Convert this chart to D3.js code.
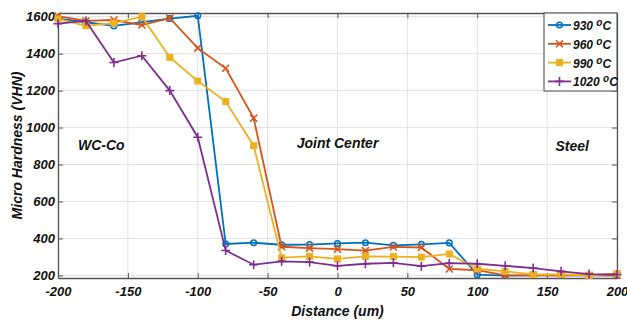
<!DOCTYPE html>
<html>
<head>
<meta charset="utf-8">
<script src="https://cdn.jsdelivr.net/npm/d3@7"></script>
<style>
  body { margin: 0; background: #fff; }
  svg text { font-family: "Liberation Sans", Arial, sans-serif; font-weight: bold; font-style: italic; fill: #111; }
</style>
</head>
<body>
<div id="chart"></div>
<script>
// distance positions (um)
const distances = [-200, -180, -160, -140, -120, -100, -80, -60, -40, -20, 0, 20, 40, 60, 80, 100, 120, 140, 160, 180, 200];

// hardness readings (VHN) per temperature
const hv930  = [1590, 1570, 1550, 1570, 1590, 1605, 370, 377, 366, 367, 373, 377, 363, 368, 376, 204, 199, 200, 200, 200, 200];
const hv960  = [1603, 1577, 1582, 1555, 1592, 1430, 1321, 1051, 355, 348, 342, 334, 354, 351, 235, 228, 200, 200, 201, 200, 200];
const hv990  = [1588, 1551, 1565, 1600, 1380, 1252, 1141, 902, 296, 303, 289, 303, 302, 299, 316, 236, 222, 205, 205, 200, 210];
const hv1020 = [1562, 1577, 1352, 1389, 1200, 948, 335, 258, 276, 272, 252, 263, 268, 250, 266, 263, 252, 240, 222, 207, 205];

const seriesNames = ["930", "960", "990", "1020"];
const seriesColors = ["#0072BD", "#D95319", "#EDB120", "#7E2F8E"];
const seriesMarkers = ["circle", "cross", "square", "plus"];

const xTicks = [-200, -150, -100, -50, 0, 50, 100, 150, 200];
const yTicks = [200, 400, 600, 800, 1000, 1200, 1400, 1600];

// region labels: [text, x, y]
const regionLabels = [["WC-Co", -169, 900], ["Joint Center", 0, 910], ["Steel", 168, 893]];

const W = 627, H = 322;
const margin = {left: 58, top: 13, right: 10, bottom: 44};
const w = W - margin.left - margin.right;
const h = H - margin.top - margin.bottom;

const svg = d3.select("#chart").append("svg")
    .attr("width", W)
    .attr("height", H);

const g = svg.append("g").attr("transform", `translate(${margin.left},${margin.top})`);

const x = d3.scaleLinear().domain([-200, 200]).range([0, w]);
const y = d3.scaleLinear().domain([186, 1620]).range([h, 0]);
const plain = d => String(d);

// grid
g.append("g").selectAll("line").data(xTicks).join("line")
    .attr("x1", d => x(d)).attr("x2", d => x(d))
    .attr("y1", 0).attr("y2", h)
    .attr("stroke", "#e2e2e2").attr("stroke-width", 1);
g.append("g").selectAll("line").data(yTicks).join("line")
    .attr("x1", 0).attr("x2", w)
    .attr("y1", d => y(d)).attr("y2", d => y(d))
    .attr("stroke", "#e2e2e2").attr("stroke-width", 1);

// axes (ticks pointing inward, like matlab)
const xAxis = g.append("g").attr("transform", `translate(0,${h})`)
    .call(d3.axisBottom(x).tickValues(xTicks).tickFormat(plain).tickSizeInner(-5).tickSizeOuter(0).tickPadding(9));
const xTop = g.append("g")
    .call(d3.axisTop(x).tickValues(xTicks).tickSizeInner(-5).tickSizeOuter(0).tickFormat(""));
const yAxis = g.append("g")
    .call(d3.axisLeft(y).tickValues(yTicks).tickFormat(plain).tickSizeInner(-5).tickSizeOuter(0).tickPadding(3));
const yRight = g.append("g").attr("transform", `translate(${w},0)`)
    .call(d3.axisRight(y).tickValues(yTicks).tickSizeInner(-5).tickSizeOuter(0).tickFormat(""));

[xAxis, xTop, yAxis, yRight].forEach(a => {
    a.select(".domain").attr("stroke", "#555").attr("stroke-width", 1.3);
    a.selectAll(".tick line").attr("stroke", "#555");
    a.selectAll("text").attr("font-size", 13).attr("fill", "#111")
        .style("font-family", "'Liberation Sans', Arial, sans-serif")
        .style("font-weight", "bold").style("font-style", "italic");
});

// series
const allSeries = [hv930, hv960, hv990, hv1020];
const line = d3.line().x((d, i) => x(distances[i])).y(d => y(d));

function drawMarker(sel, type, color) {
    if (type === "circle") {
        sel.append("circle").attr("r", 2.8).attr("fill", "none").attr("stroke", color).attr("stroke-width", 1.5);
    } else if (type === "cross") {
        sel.append("path").attr("d", "M-3.5,-3.5L3.5,3.5M-3.5,3.5L3.5,-3.5").attr("stroke", color).attr("stroke-width", 1.6);
    } else if (type === "square") {
        sel.append("rect").attr("x", -3.5).attr("y", -3.5).attr("width", 7).attr("height", 7).attr("fill", color);
    } else {
        sel.append("path").attr("d", "M-4.5,0L4.5,0M0,-4.5L0,4.5").attr("stroke", color).attr("stroke-width", 1.6);
    }
}

allSeries.forEach((vals, k) => {
    const sg = g.append("g");
    sg.append("path").datum(vals)
        .attr("d", line)
        .attr("fill", "none")
        .attr("stroke", seriesColors[k])
        .attr("stroke-width", 1.8);
    sg.selectAll("g.m").data(vals).join("g")
        .attr("class", "m")
        .attr("transform", (d, i) => `translate(${x(distances[i])},${y(d)})`)
        .each(function () { drawMarker(d3.select(this), seriesMarkers[k], seriesColors[k]); });
});

// region labels
g.selectAll("text.region").data(regionLabels).join("text")
    .attr("class", "region")
    .attr("x", d => x(d[1])).attr("y", d => y(d[2]))
    .attr("text-anchor", "middle")
    .attr("dominant-baseline", "middle")
    .attr("font-size", 14)
    .text(d => d[0]);

// axis titles
svg.append("text")
    .attr("x", margin.left + w / 2).attr("y", 316)
    .attr("text-anchor", "middle")
    .attr("font-size", 14)
    .text("Distance (um)");
svg.append("text")
    .attr("transform", `translate(17,${margin.top + h / 2}) rotate(-90)`)
    .attr("text-anchor", "middle")
    .attr("dominant-baseline", "central")
    .attr("font-size", 14)
    .text("Micro Hardness (VHN)");

// legend
const lg = g.append("g").attr("transform", `translate(${w - 73},0)`);
lg.append("rect").attr("width", 73).attr("height", 78)
    .attr("fill", "#fff").attr("stroke", "#444").attr("stroke-width", 1);
seriesNames.forEach((name, k) => {
    const row = lg.append("g").attr("transform", `translate(0,${12 + k * 18.8})`);
    row.append("line").attr("x1", 4).attr("x2", 27).attr("y1", 0).attr("y2", 0)
        .attr("stroke", seriesColors[k]).attr("stroke-width", 1.8);
    const mk = row.append("g").attr("transform", "translate(15.5,0)");
    drawMarker(mk, seriesMarkers[k], seriesColors[k]);
    const t = row.append("text").attr("x", 29).attr("y", 5).attr("font-size", 12);
    t.append("tspan").text(name + " ");
    t.append("tspan").attr("dy", -4).attr("font-size", 10).text("o");
    t.append("tspan").attr("dy", 4).text("C");
});
</script>
</body>
</html>
